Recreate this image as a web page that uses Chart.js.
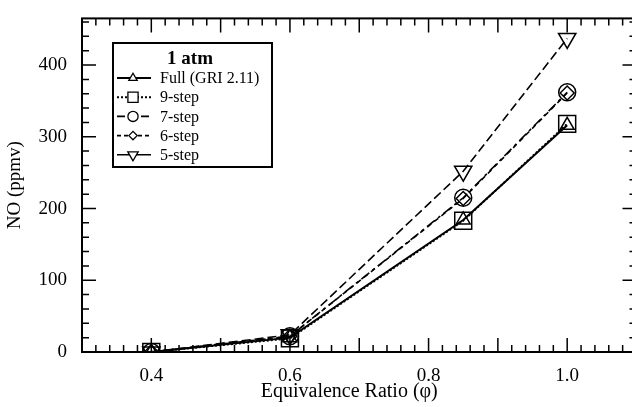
<!DOCTYPE html>
<html lang="en">

<head>
  <meta charset="UTF-8" />
  <title>NO vs equivalence ratio</title>
  <script src="https://cdn.jsdelivr.net/npm/chart.js"></script>
  <style>
    html, body { margin: 0; padding: 0; background: #fff; overflow: hidden; }
  </style>
</head>

<body>
  <canvas id="noChart" width="650" height="407"></canvas>

  <script>
    // equivalence ratio points and NO (ppmv) for each mechanism
    const phi = [0.4, 0.6, 0.85, 1.0];
    const fullGri = [0, 20, 184, 316];
    const step9 = [0, 19, 183, 318];
    const step7 = [0, 22, 215, 362];
    const step6 = [0, 22, 214, 361];
    const step5 = [0, 24, 252, 437];

    const xTickLabels = [0.4, 0.6, 0.8, 1.0];
    const yTickLabels = [0, 100, 200, 300, 400];

    const serif = "'Liberation Serif', 'DejaVu Serif', serif";

    function pts(vals) {
      return vals.map((v, i) => ({ x: phi[i], y: v }));
    }

    function serie(label, vals, style, radius, dash, width, rotation) {
      return {
        label: label,
        data: pts(vals),
        showLine: true,
        borderColor: '#000',
        borderWidth: width,
        borderDash: dash,
        pointStyle: style,
        pointRadius: radius,
        pointRotation: rotation || 0,
        pointBorderColor: '#000',
        pointBorderWidth: 1.5,
        pointBackgroundColor: 'rgba(0,0,0,0)',
        pointHoverRadius: radius
      };
    }

    const datasets = [
      serie('Full (GRI 2.11)', fullGri, 'triangle', 8, [], 2),
      serie('9-step', step9, 'rect', 12, [2, 2], 2),
      serie('7-step', step7, 'circle', 8.5, [10, 4, 3, 4], 1.6),
      serie('6-step', step6, 'rectRot', 7, [5, 4], 1.6),
      serie('5-step', step5, 'triangle', 10, [9, 4], 1.6, 180)
    ];

    // legend sample dash for each entry
    const legendDash = [[], [2, 2], [8, 4], [4, 3], []];

    // frame with inward ticks on all four sides
    const framePlugin = {
      id: 'frame',
      afterDatasetsDraw(chart) {
        const { ctx, chartArea: a, scales } = chart;
        const x = scales.x, y = scales.y;
        ctx.save();
        ctx.strokeStyle = '#000';
        ctx.lineWidth = 2;
        ctx.strokeRect(a.left, a.top, a.right - a.left, a.bottom - a.top);
        ctx.lineWidth = 1.5;
        ctx.beginPath();
        for (let i = 15; i <= 55; i++) {
          const v = i / 50;
          const px = x.getPixelForValue(v);
          if (px < a.left + 1 || px > a.right - 1) continue;
          const len = (i % 5 === 0) ? 14 : 7;
          ctx.moveTo(px, a.bottom); ctx.lineTo(px, a.bottom - len);
          ctx.moveTo(px, a.top); ctx.lineTo(px, a.top + len);
        }
        for (let v = 20; v <= 460; v += 20) {
          const py = y.getPixelForValue(v);
          if (py < a.top + 1) continue;
          const len = (v % 100 === 0) ? 14 : 7;
          ctx.moveTo(a.left, py); ctx.lineTo(a.left + len, py);
          ctx.moveTo(a.right, py); ctx.lineTo(a.right - len, py);
        }
        ctx.stroke();
        ctx.restore();
      }
    };

    // boxed legend with line + marker samples
    const legendPlugin = {
      id: 'boxLegend',
      afterDraw(chart) {
        const ctx = chart.ctx;
        const bx = 113, by = 43, bw = 159, bh = 124;
        ctx.save();
        ctx.fillStyle = '#fff';
        ctx.fillRect(bx, by, bw, bh);
        ctx.strokeStyle = '#000';
        ctx.lineWidth = 2;
        ctx.strokeRect(bx, by, bw, bh);

        ctx.fillStyle = '#000';
        ctx.font = 'bold 19px ' + serif;
        ctx.textAlign = 'center';
        ctx.textBaseline = 'middle';
        ctx.fillText('1 atm', 190, 59);

        ctx.font = '16px ' + serif;
        ctx.textAlign = 'left';
        chart.data.datasets.forEach((ds, i) => {
          const ly = 78 + i * 19.2;
          ctx.strokeStyle = '#000';
          ctx.beginPath();
          ctx.setLineDash(legendDash[i]);
          ctx.lineWidth = ds.borderWidth;
          ctx.moveTo(117, ly);
          ctx.lineTo(151, ly);
          ctx.stroke();
          ctx.setLineDash([]);
          // white marker body over the sample line
          ctx.fillStyle = '#fff';
          ctx.lineWidth = 1.3;
          Chart.helpers.drawPoint(ctx, {
            pointStyle: ds.pointStyle,
            radius: ds.pointRadius * 0.6,
            rotation: ds.pointRotation,
            borderWidth: 1.3
          }, 133, ly);
          ctx.fillStyle = '#000';
          ctx.fillText(ds.label, 160, ly + 1);
        });
        ctx.restore();
      }
    };

    new Chart(document.getElementById('noChart'), {
      type: 'scatter',
      data: { datasets: datasets },
      options: {
        responsive: false,
        animation: false,
        layout: { padding: { top: 16, right: 8, left: 0, bottom: 0 } },
        plugins: {
          legend: { display: false },
          tooltip: { enabled: false }
        },
        scales: {
          x: {
            type: 'linear',
            min: 0.3,
            max: 1.1,
            grid: { display: false },
            border: { display: false },
            afterBuildTicks(scale) {
              scale.ticks = xTickLabels.map(v => ({ value: v }));
            },
            afterFit(scale) { scale.height = 55; },
            ticks: {
              color: '#000',
              padding: 5,
              maxRotation: 0,
              font: { family: serif, size: 19 },
              callback: v => v.toFixed(1)
            },
            title: {
              display: true,
              text: 'Equivalence Ratio (φ)\u2002\u2002',
              color: '#000',
              padding: { top: 0, bottom: 3 },
              font: { family: serif, size: 20 }
            }
          },
          y: {
            type: 'linear',
            min: 0,
            max: 465,
            grid: { display: false },
            border: { display: false },
            afterBuildTicks(scale) {
              scale.ticks = yTickLabels.map(v => ({ value: v }));
            },
            afterFit(scale) { scale.width = 82; },
            ticks: {
              color: '#000',
              padding: 7,
              font: { family: serif, size: 19 }
            },
            title: {
              display: true,
              text: 'NO (ppmv)',
              color: '#000',
              padding: { top: 4, bottom: 0 },
              font: { family: serif, size: 19 }
            }
          }
        }
      },
      plugins: [framePlugin, legendPlugin]
    });
  </script>
</body>

</html>
